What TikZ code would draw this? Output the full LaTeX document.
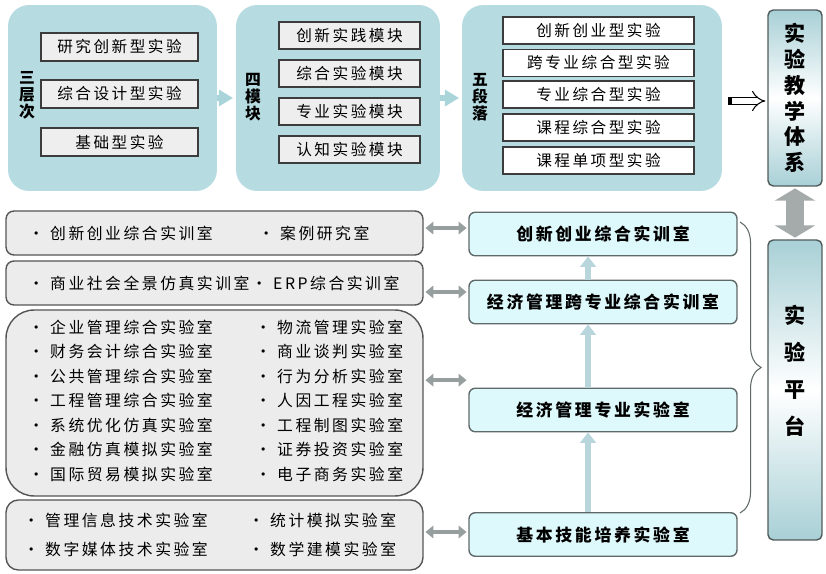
\documentclass[tikz,border=0pt]{standalone}
\usepackage{fontspec}
\setmainfont{Noto Sans CJK SC}[LetterSpace=16]
\usepackage{tikz}
\usetikzlibrary{arrows.meta,calc,decorations.pathreplacing}

\definecolor{panelc}{RGB}{182,220,226}
\definecolor{innerf}{RGB}{238,238,238}
\definecolor{innerd}{RGB}{60,60,60}
\definecolor{labf}{RGB}{222,249,252}
\definecolor{labd}{RGB}{95,105,105}
\definecolor{leftf}{RGB}{236,236,236}
\definecolor{leftd}{RGB}{85,85,85}
\definecolor{sidec}{RGB}{168,208,214}
\definecolor{sided}{RGB}{80,90,90}
\definecolor{uparc}{RGB}{184,214,220}
\definecolor{linkc}{RGB}{150,158,158}
\definecolor{bigc}{RGB}{165,170,170}
\definecolor{panarc}{RGB}{168,212,218}

\begin{document}
\begin{tikzpicture}[x=0.02cm,y=-0.02cm,
  panel/.style={fill=panelc,rounded corners=12pt,minimum height=3.72cm},
  tier/.style={draw=innerd,line width=1pt,fill=innerf,minimum height=0.56cm,font=\fontsize{8.9}{10}\selectfont},
  stagebox/.style={tier,fill=white,minimum width=3.82cm,minimum height=0.54cm},
  vlabel/.style={align=center,font=\fontsize{9}{9.6}\selectfont\bfseries},
  lab/.style={draw=labd,line width=0.8pt,fill=labf,rounded corners=3.5pt,minimum width=5.36cm,minimum height=0.87cm,font=\fontsize{9.6}{11}\selectfont\bfseries},
  room/.style={draw=leftd,line width=0.8pt,fill=leftf,minimum width=8.34cm},
  item/.style={anchor=west,inner sep=0pt,font=\fontsize{9}{10}\selectfont},
  side/.style={draw=sided,line width=0.8pt,rounded corners=3pt,top color=sidec,bottom color=sidec,middle color=white,minimum width=1.08cm},
  panarr/.style={panarc,line width=3pt,shorten >=1.5pt,-{Triangle[length=8pt,width=9pt]}},
  uparr/.style={uparc,line width=3.4pt,-{Triangle[length=6pt,width=9pt]}},
  linkarr/.style={linkc,line width=2.3pt,shorten <=1pt,shorten >=1pt,{Triangle[length=4.5pt,width=7pt]}-{Triangle[length=4.5pt,width=7pt]}},
]
\useasboundingbox (0,0) rectangle (826,574);

% three panels on top
\node[panel,minimum width=4.18cm] (tiers) at (112.5,98) {};
\node[panel,minimum width=4.08cm] (modules) at (338,98) {};
\node[panel,minimum width=5.2cm] (stages) at (592,98) {};
\draw[panarr] (tiers.east) -- (modules.west);
\draw[panarr] (modules.east) -- (stages.west);

\node[vlabel] (tierlbl) at (27,95) {三\\层\\次};
\node[tier,minimum width=3.14cm] (tier1) at (119.5,47) {研究创新型实验};
\node[tier,minimum width=3.14cm] (tier2) at (119.5,94) {综合设计型实验};
\node[tier,minimum width=3.14cm] (tier3) at (119.5,142) {基础型实验};

\node[vlabel] (modlbl) at (253,97) {四\\模\\块};
\node[tier,minimum width=2.82cm,minimum height=0.54cm] (mod1) at (349.5,35.5) {创新实践模块};
\node[tier,minimum width=2.82cm,minimum height=0.54cm] (mod2) at (349.5,73.5) {综合实验模块};
\node[tier,minimum width=2.82cm,minimum height=0.54cm] (mod3) at (349.5,111.5) {专业实验模块};
\node[tier,minimum width=2.82cm,minimum height=0.54cm] (mod4) at (349.5,149.5) {认知实验模块};

\node[vlabel] (stagelbl) at (480,97) {五\\段\\落};
\node[stagebox] (stage1) at (598.5,30.5) {创新创业型实验};
\node[stagebox] (stage2) at (598.5,63) {跨专业综合型实验};
\node[stagebox] (stage3) at (598.5,94.5) {专业综合型实验};
\node[stagebox] (stage4) at (598.5,127.5) {课程综合型实验};
\node[stagebox] (stage5) at (598.5,160.5) {课程单项型实验};

% right column
\node[side,minimum height=3.52cm,align=center,font=\fontsize{12}{14.7}\selectfont\bfseries] (tixi) at (795,98) {实\\验\\教\\学\\体\\系};
\node[side,minimum height=6cm] (platform) at (795,390) {};
\node[align=center,font=\fontsize{12}{21}\selectfont\bfseries] (platlbl) at (795,371) {实\\验\\平\\台};
\draw[bigc,line width=10pt,shorten <=1pt,shorten >=1pt,{Triangle[length=7pt,width=23pt]}-{Triangle[length=7pt,width=23pt]}] (tixi.south) -- (platform.north);

\coordinate (h1) at ($(stages.east)+(6,3)$);
\coordinate (h2) at ($(tixi.west)+(-2,3)$);
\draw[line width=0.6pt,double=white,double distance=3.5pt,-{Implies}] (h1) -- (h2);
\fill (h1) ++(0,-3) rectangle ++(4,6);

% labs in the middle
\node[lab] (cxlab) at (603,234) {创新创业综合实训室};
\node[lab] (kzlab) at (603,302) {经济管理跨专业综合实训室};
\node[lab] (zylab) at (603,410) {经济管理专业实验室};
\node[lab] (jblab) at (603,534.5) {基本技能培养实验室};
\draw[uparr] ([xshift=-8.5pt]jblab.north) -- ([xshift=-8.5pt]zylab.south);
\draw[uparr] ([xshift=-8.5pt]zylab.north) -- ([xshift=-8.5pt]kzlab.south);
\draw[uparr] ([xshift=-8.5pt]kzlab.north) -- ([xshift=-8.5pt]cxlab.south);
\draw[decorate,decoration={brace,amplitude=12pt},labd,line width=0.6pt] (740,222) -- (740,513);

% rooms on the left
\node[room,rounded corners=4.5pt,minimum height=0.88cm] (ccroom) at (214.5,233) {};
\node[room,rounded corners=4.5pt,minimum height=0.88cm] (fzroom) at (214.5,283) {};
\node[room,rounded corners=16pt,minimum height=3.72cm] (zyroom) at (214.5,403) {};
\node[room,rounded corners=7pt,minimum height=1.4cm] (jcroom) at (214.5,535) {};

\node[item] (cc1) at (28,233) {· 创新创业综合实训室};
\node[item] (cc2) at (258,233) {· 案例研究室};
\node[item] (fz1) at (28,283) {· 商业社会全景仿真实训室};
\node[item] (fz2) at (251,283) {· ERP综合实训室};
\foreach \t/\u [count=\i] in {企业管理综合实验室/物流管理实验室,财务会计综合实验室/商业谈判实验室,
  公共管理综合实验室/行为分析实验室,工程管理综合实验室/人因工程实验室,系统优化仿真实验室/工程制图实验室,
  金融仿真模拟实验室/证券投资实验室,国际贸易模拟实验室/电子商务实验室}{
  \node[item] (zyl\i) at (28,{302.5+24.5*\i}) {· \t};
  \node[item] (zyr\i) at (255,{302.5+24.5*\i}) {· \u};
}
\node[item] (jc1) at (23,520) {· 管理信息技术实验室};
\node[item] (jc2) at (23,549) {· 数字媒体技术实验室};
\node[item] (jc3) at (248,520) {· 统计模拟实验室};
\node[item] (jc4) at (248,549) {· 数学建模实验室};

\coordinate (l1) at ([yshift=2.8pt]ccroom.east);
\coordinate (l2) at ([yshift=-5.1pt]fzroom.east);
\coordinate (l3) at ([yshift=13pt]zyroom.east);
\coordinate (l4) at ([yshift=1.7pt]jcroom.east);
\draw[linkarr] (l1) -- (l1 -| cxlab.west);
\draw[linkarr] (l2) -- (l2 -| kzlab.west);
\draw[linkarr] (l3) -- (l3 -| zylab.west);
\draw[linkarr] (l4) -- (l4 -| jblab.west);
\end{tikzpicture}
\end{document}
